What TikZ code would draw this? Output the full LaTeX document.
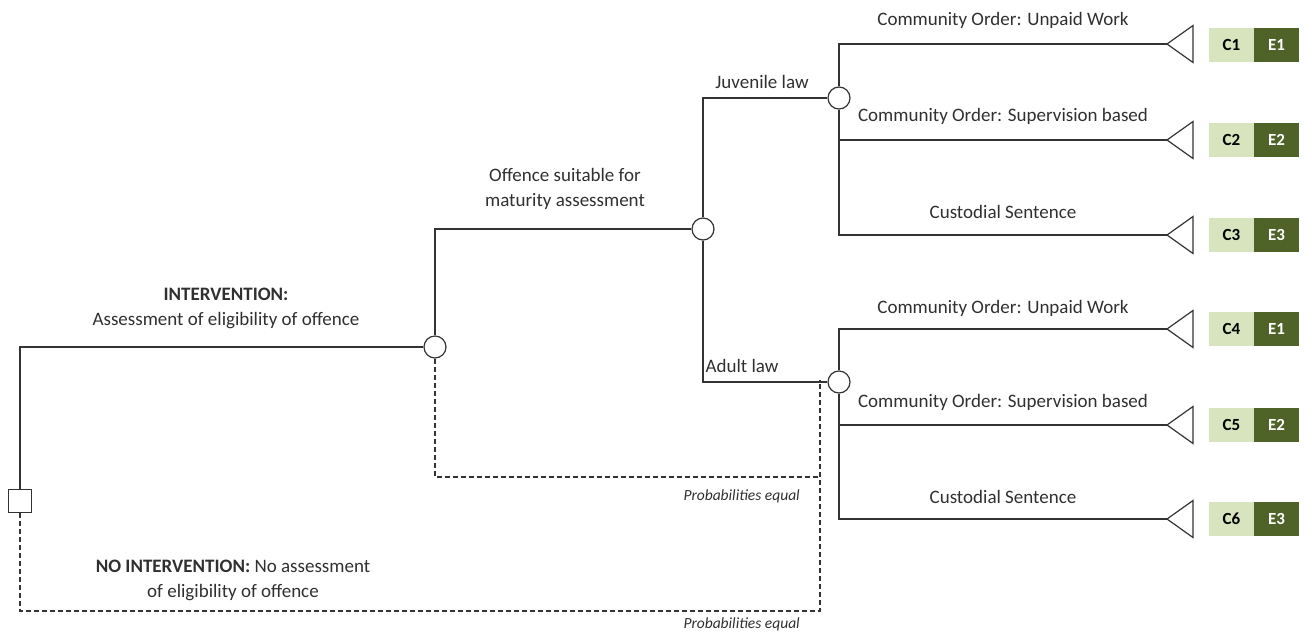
\documentclass[tikz,border=0pt]{standalone}
\usepackage{fontspec}
\setmainfont{Carlito}
\usetikzlibrary{positioning}
\definecolor{ln}{HTML}{333333}
\definecolor{tx}{HTML}{303030}
\definecolor{cgreen}{HTML}{D7E4BD}
\definecolor{egreen}{HTML}{4F6228}
\tikzset{
  chance/.style={circle,draw=ln,line width=1.2pt,fill=white,minimum size=22pt,inner sep=0pt},
  decision/.style={rectangle,draw=ln,line width=1.2pt,fill=white,minimum size=23pt,inner sep=0pt},
  branch/.style={draw=ln,line width=1.2pt},
  dashbranch/.style={draw=ln,line width=1.1pt,dash pattern=on 5pt off 3pt},
  lbl/.style={text=tx,font=\fontsize{19}{25}\selectfont,align=center,inner sep=0pt},
  prob/.style={text=tx,font=\fontsize{15.5}{18}\selectfont\itshape,inner sep=0pt,anchor=east},
  cbox/.style={fill=cgreen,minimum width=45pt,minimum height=34pt,inner sep=0pt,text=black,font=\fontsize{17}{20}\selectfont\bfseries},
  ebox/.style={fill=egreen,minimum width=45pt,minimum height=34pt,inner sep=0pt,text=white,font=\fontsize{17}{20}\selectfont\bfseries},
  term/.style={draw=ln,line width=1.2pt,line join=miter}
}
\begin{document}
\begin{tikzpicture}[x=1pt,y=-1pt]
\useasboundingbox (0,0) rectangle (1305,635);
% nodes
\node[decision] (d) at (20,501) {};
\node[chance] (c1) at (435,347) {};
\node[chance] (c2) at (703,229) {};
\node[chance] (cj) at (839,98) {};
\node[chance] (ca) at (839,382) {};
% terminal tips
\foreach \i/\y in {1/44,2/140,3/235,4/329,5/425,6/519}{
  \coordinate (t\i) at (1167,\y);
  \draw[term] (t\i) -- ++(26,-18.5) -- ++(0,37) -- cycle;
}
% outcome boxes
\node[cbox] (C1) at (1231.5,45) {C1}; \node[ebox] (E1) at (1276.5,45) {E1};
\node[cbox] (C2) at (1231.5,140) {C2}; \node[ebox] (E2) at (1276.5,140) {E2};
\node[cbox] (C3) at (1231.5,235) {C3}; \node[ebox] (E3) at (1276.5,235) {E3};
\node[cbox] (C4) at (1231.5,329) {C4}; \node[ebox] (E4) at (1276.5,329) {E1};
\node[cbox] (C5) at (1231.5,425) {C5}; \node[ebox] (E5) at (1276.5,425) {E2};
\node[cbox] (C6) at (1231.5,519) {C6}; \node[ebox] (E6) at (1276.5,519) {E3};
% solid branches
\draw[branch] (d.north) |- (c1.west);
\draw[branch] (c1.north) |- (c2.west);
\draw[branch] (c2.north) |- (cj.west);
\draw[branch] (c2.south) |- (ca.west);
\draw[branch] (cj.north) |- (t1);
\draw[branch] (cj.south) |- (t2);
\draw[branch] (cj.south) |- (t3);
\draw[branch] (ca.north) |- (t4);
\draw[branch] (ca.south) |- (t5);
\draw[branch] (ca.south) |- (t6);
% dashed branches
\coordinate (p1) at (820,477);
\coordinate (p2) at (820,611);
\coordinate (p3) at (820,380);
\draw[dashbranch] (c1.south) |- (p1);
\draw[dashbranch] (d.south) |- (p2) -- (p3);
% labels
\node[lbl] (l1) at (226,308) {\textbf{INTERVENTION:}\\Assessment of eligibility of offence};
\node[lbl] (l2) at (565,189) {Offence suitable for\\maturity assessment};
\node[lbl] (l3) at (762,82) {Juvenile law};
\node[lbl] (l4) at (742,366) {Adult law};
\node[lbl] (o1) at (1003,20) {Community Order: Unpaid Work};
\node[lbl] (o2) at (1003,116) {Community Order: Supervision based};
\node[lbl] (o3) at (1003,212) {Custodial Sentence};
\node[lbl] (o4) at (1003,308) {Community Order: Unpaid Work};
\node[lbl] (o5) at (1003,402) {Community Order: Supervision based};
\node[lbl] (o6) at (1003,497) {Custodial Sentence};
\node[lbl] (l5) at (233,580) {\textbf{NO INTERVENTION:} No assessment\\of eligibility of offence};
\node[prob] (q1) at (800,496) {Probabilities equal};
\node[prob] (q2) at (800,624) {Probabilities equal};
\end{tikzpicture}
\end{document}
